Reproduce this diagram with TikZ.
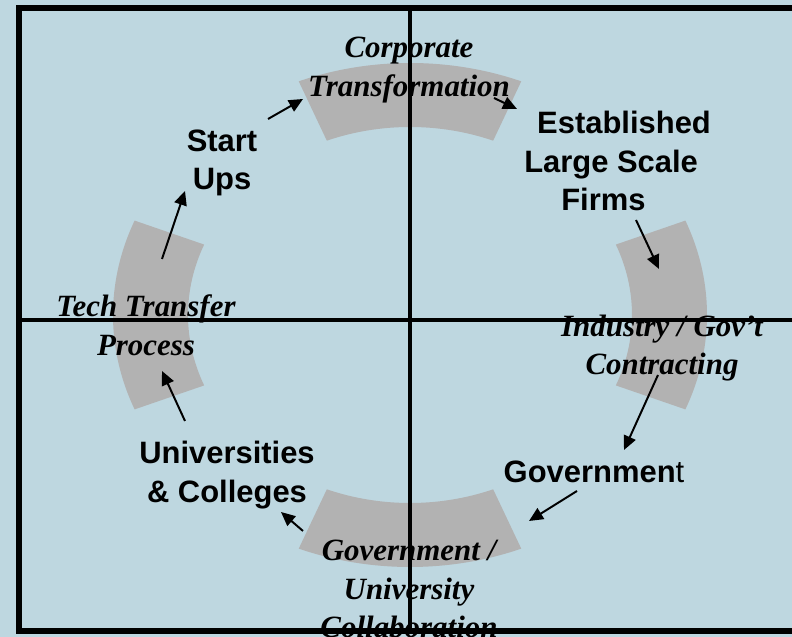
\documentclass[tikz,border=0pt]{standalone}
\usepackage{fontspec}
\setmainfont{Liberation Serif}
\setsansfont{Liberation Sans}
\usepackage{xcolor}
\usetikzlibrary{arrows.meta}

\definecolor{paneblue}{RGB}{190,215,224}
\definecolor{ringgray}{RGB}{178,178,178}

\tikzset{
  actor/.style={font=\sffamily\bfseries\fontsize{22}{27.5}\selectfont, align=center, inner sep=0pt},
  process/.style={font=\rmfamily\bfseries\itshape\fontsize{22}{27.5}\selectfont, align=center, inner sep=0pt},
  flow/.style={-{Triangle[length=10pt,width=9pt]}, line width=1.4pt},
  segment/.style={fill=ringgray}
}

\begin{document}
\begin{tikzpicture} [x=0.025cm, y=0.025cm]

        \useasboundingbox (0,0) rectangle (792,637);
        \fill [paneblue] (0,0) rectangle (792,637);

        % grey ring, four pieces
        \begin{scope} [shift={(410,322)}]
            \foreach \a in {0,90,180,270}
                \fill [segment] ({\a-22}:297 and 252) arc [start angle={\a-22},
                delta angle=44, x radius=297, y radius=252] -- ({\a+22}:222 and
                188) arc [start angle={\a+22}, delta angle=-44, x radius=222,
                y radius=188] -- cycle;
        \end{scope}

        \node (corp) [process] at (409,567) {Corporate\\Transformation};
        \node (start) [actor] at (222,474) {Start\\Ups}; \node (firms)
        [actor, align=left, anchor=west] at (524,476)
        {\hspace*{9.2pt}Established\\Large Scale\\\hspace*{26.3pt}Firms};
        \node (contract) [process] at (662,289) {Industry / Gov’t\\Contracting};
        \node (gov) [actor] at (594,165) {Governmen{\mdseries t}}; \node
        (collab) [process] at (409,48) {Government /\\University\\Collaboration};
        \node (univ) [actor] at (227,162) {Universities\\\& Colleges}; \node
        (tech) [process] at (146,312) {Tech Transfer\\Process};

        % quadrant lines and frame
        \draw [line width=2.2pt] (410,629) -- (410,6);
        \draw [line width=2.2pt] (19,317) -- (800,317);
        \draw [line width=4pt] (820,629) -- (19,629) -- (19,6) -- (820,6);

        \coordinate (t1) at (162,378); \coordinate (h1) at (185,446);
        \coordinate (t2) at (268,518); \coordinate (h2) at (303,538);
        \coordinate (t3) at (494,539); \coordinate (h3) at (517,528);
        \coordinate (t4) at (636,417); \coordinate (h4) at (659,368);
        \coordinate (t5) at (658,262); \coordinate (h5) at (624,187);
        \coordinate (t6) at (577,146); \coordinate (h6) at (529,116);
        \coordinate (t7) at (303,106); \coordinate (h7) at (281,125);
        \coordinate (t8) at (185,216); \coordinate (h8) at (162,266);

        \path [flow]
            (t1) edge (h1) (t2) edge (h2) (t3) edge (h3) (t4) edge (h4)
            (t5) edge (h5) (t6) edge (h6) (t7) edge (h7) (t8) edge (h8);
    \end{tikzpicture}
\end{document}
